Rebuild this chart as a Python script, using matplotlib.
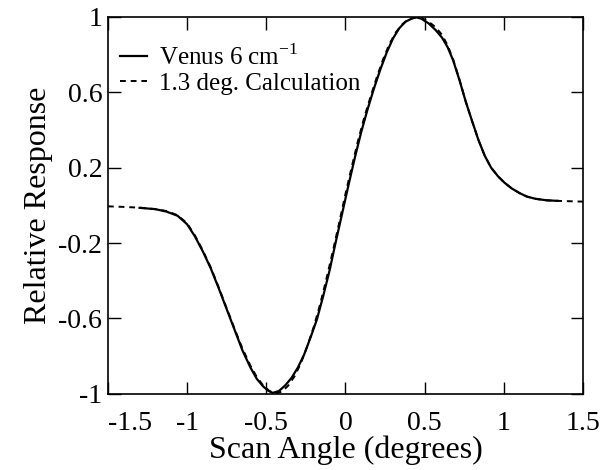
import matplotlib
matplotlib.use("Agg")
import matplotlib.pyplot as plt

plt.rcParams['font.family'] = ['Liberation Serif', 'DejaVu Serif']
plt.rcParams['mathtext.fontset'] = 'custom'
plt.rcParams['mathtext.rm'] = 'Liberation Serif'
plt.rcParams['axes.unicode_minus'] = False

# Venus 6 cm-1 scan (solid)
venus_x = [-1.30, -1.20, -1.13, -1.06, -1.00, -0.95, -0.90, -0.85, -0.80, -0.75,
           -0.70, -0.65, -0.60, -0.56, -0.52, -0.49, -0.46, -0.42, -0.38, -0.34,
           -0.30, -0.26, -0.22, -0.18, -0.14, -0.10, -0.06, -0.02, 0.02, 0.06,
           0.10, 0.14, 0.18, 0.22, 0.26, 0.30, 0.34, 0.38, 0.44, 0.48,
           0.525, 0.57, 0.61, 0.645, 0.68, 0.72, 0.76, 0.80, 0.84, 0.88,
           0.92, 0.965, 1.005, 1.05, 1.10, 1.145, 1.20, 1.27, 1.34]
venus_y = [-0.013, -0.020, -0.033, -0.055, -0.10, -0.165, -0.245, -0.335, -0.44, -0.55,
           -0.66, -0.77, -0.86, -0.92, -0.96, -0.982, -0.995, -0.985, -0.955, -0.915,
           -0.86, -0.79, -0.70, -0.605, -0.48, -0.345, -0.19, -0.04, 0.11, 0.255,
           0.39, 0.51, 0.62, 0.72, 0.81, 0.885, 0.94, 0.975, 1.0, 0.99,
           0.966, 0.93, 0.89, 0.84, 0.77, 0.665, 0.55, 0.447, 0.347, 0.263,
           0.20, 0.153, 0.12, 0.09, 0.065, 0.047, 0.035, 0.027, 0.024]

# 1.3 deg. calculation (dashed)
calc_x = [-1.50, -1.40, -1.30, -1.20, -1.13, -1.06, -1.00, -0.95, -0.90, -0.85,
          -0.80, -0.75, -0.70, -0.65, -0.60, -0.56, -0.52, -0.48, -0.44, -0.40,
          -0.36, -0.32, -0.28, -0.24, -0.20, -0.16, -0.12, -0.08, -0.04, 0.00,
          0.04, 0.08, 0.12, 0.16, 0.20, 0.24, 0.28, 0.32, 0.36, 0.40,
          0.47, 0.525, 0.57, 0.61, 0.645, 0.68, 0.72, 0.76, 0.80, 0.84,
          0.88, 0.92, 0.965, 1.005, 1.05, 1.10, 1.145, 1.20, 1.27, 1.34,
          1.42, 1.50]
calc_y = [-0.005, -0.008, -0.012, -0.020, -0.030, -0.052, -0.095, -0.16, -0.24, -0.33,
          -0.435, -0.545, -0.655, -0.76, -0.85, -0.91, -0.955, -0.985, -0.998, -0.988,
          -0.955, -0.905, -0.835, -0.745, -0.645, -0.525, -0.39, -0.245, -0.095, 0.06,
          0.205, 0.345, 0.47, 0.58, 0.685, 0.78, 0.86, 0.92, 0.962, 0.988,
          1.0, 0.975, 0.945, 0.905, 0.85, 0.775, 0.668, 0.55, 0.447, 0.347,
          0.263, 0.20, 0.153, 0.12, 0.09, 0.065, 0.047, 0.035, 0.027, 0.024,
          0.022, 0.020]

x_ticks = [-1.5, -1, -0.5, 0, 0.5, 1, 1.5]
x_labels = ['-1.5', '-1', '-0.5', '0', '0.5', '1', '1.5']
y_ticks = [-1, -0.6, -0.2, 0.2, 0.6, 1]
y_labels = ['-1', '-0.6', '-0.2', '0.2', '0.6', '1']

fig = plt.figure(figsize=(6.13, 4.70), dpi=100)
ax = fig.add_axes([0.176, 0.162, 0.775, 0.802])

ax.plot(venus_x, venus_y, color='black', lw=1.6, label='Venus 6 cm$^{-1}$')
ax.plot(calc_x, calc_y, color='black', lw=1.4, dashes=(3, 2.5), label='1.3 deg. Calculation')

ax.set_xlim(-1.5, 1.5)
ax.set_ylim(-1, 1)
ax.set_xticks(x_ticks)
ax.set_xticklabels(x_labels)
ax.set_yticks(y_ticks)
ax.set_yticklabels(y_labels)
ax.tick_params(direction='in', length=9, width=1, top=True, right=True, labelsize=20)
ax.tick_params(axis='x', pad=12)
ax.tick_params(axis='y', pad=4)
# first x label sits to the right of its tick, as in the original
ax.get_xticklabels()[0].set_horizontalalignment('left')
for s in ax.spines.values():
    s.set_linewidth(1.2)

ax.set_xlabel('Scan Angle (degrees)', fontsize=23, labelpad=0)
ax.set_ylabel('Relative Response', fontsize=23, labelpad=4)

ax.legend(loc='upper left', bbox_to_anchor=(0.025, 0.927), frameon=False,
          fontsize=18, handlelength=1.1, handletextpad=0.45, labelspacing=0.08,
          borderaxespad=0, borderpad=0)

fig.savefig('out.png', dpi=100)
